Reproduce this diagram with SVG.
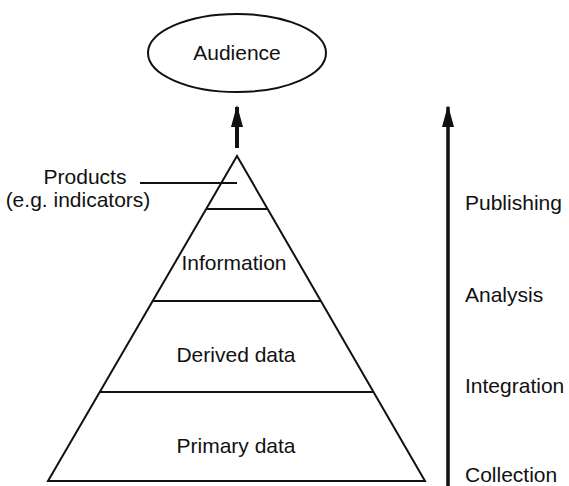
<svg xmlns="http://www.w3.org/2000/svg" width="569" height="486" viewBox="0 0 569 486">
<style>
.t{font-family:"Liberation Sans",Arial,sans-serif;font-size:21px;fill:#111}
.ln{stroke:#111;stroke-width:2;fill:none}
</style>
<defs>
<marker id="ah" markerWidth="22" markerHeight="12" refX="20" refY="6" orient="auto" markerUnits="userSpaceOnUse" viewBox="0 0 22 12">
<path d="M0,0 L22,6 L0,12 Z" fill="#111"/>
</marker>
</defs>
<rect width="569" height="486" fill="#fff"/>
<g id="audience">
<ellipse cx="237" cy="53" rx="89" ry="39" class="ln"/>
<text class="t" x="237" y="60" text-anchor="middle">Audience</text>
</g>
<g id="pyramid">
<polygon points="237,156 48,481 425,481" class="ln" stroke-linejoin="miter"/>
<line x1="206" y1="209" x2="268" y2="209" class="ln"/>
<line x1="153" y1="301" x2="321" y2="301" class="ln"/>
<line x1="100" y1="392" x2="374" y2="392" class="ln"/>
</g>
<g id="products">
<text class="t" x="85" y="184" text-anchor="middle">Products</text>
<text class="t" x="78" y="207" text-anchor="middle">(e.g. indicators)</text>
</g>
<g id="information"><text class="t" x="234" y="270" text-anchor="middle">Information</text></g>
<g id="derived"><text class="t" x="236" y="362" text-anchor="middle">Derived data</text></g>
<g id="primary"><text class="t" x="236" y="453" text-anchor="middle">Primary data</text></g>
<g id="stages">
<text class="t" x="465" y="210">Publishing</text>
<text class="t" x="465" y="302">Analysis</text>
<text class="t" x="465" y="393">Integration</text>
<text class="t" x="465" y="482">Collection</text>
</g>
<g id="connectors">
<line x1="140" y1="183" x2="237" y2="183" class="ln" stroke-width="1.8"/>
<line x1="237" y1="148" x2="237" y2="107" stroke="#111" stroke-width="4" marker-end="url(#ah)"/>
<line x1="448" y1="486" x2="448" y2="107" stroke="#111" stroke-width="3.5" marker-end="url(#ah)"/>
</g>
</svg>
